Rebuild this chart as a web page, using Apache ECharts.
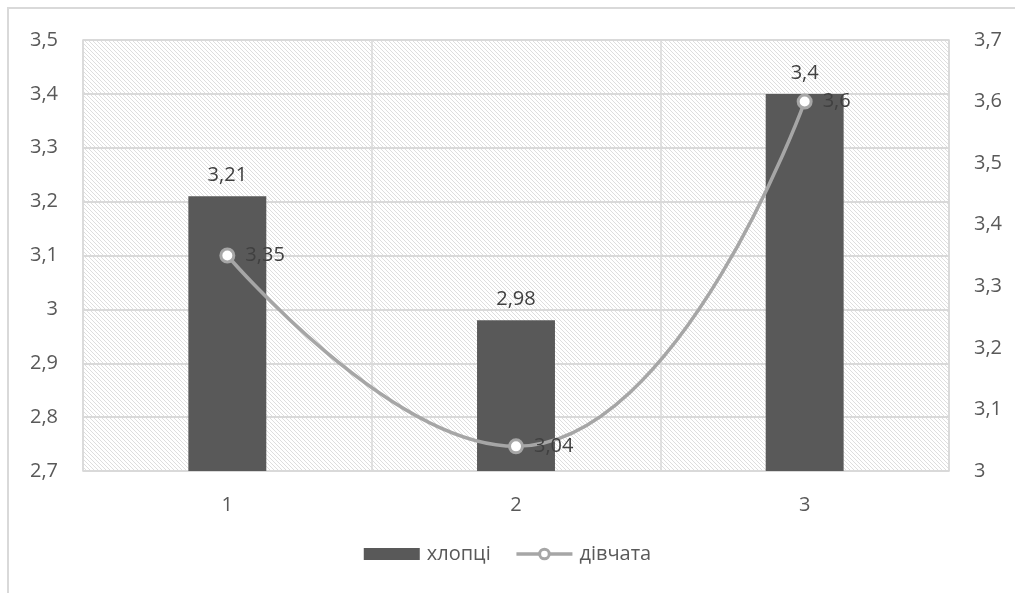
<!DOCTYPE html>
<html>
<head>
<meta charset="utf-8">
<script src="https://cdn.jsdelivr.net/npm/echarts@6/dist/echarts.min.js"></script>
<style>
html,body{margin:0;padding:0;background:#fff;}
#chart{width:1015px;height:593px;}
</style>
</head>
<body>
<div id="chart"></div>
<script>
var categories = ['1', '2', '3'];
var boysValues = [3.21, 2.98, 3.4];
var girlsValues = [3.35, 3.04, 3.6];
var seriesNames = ['хлопці', 'дівчата'];

function hatch() {
  var c = document.createElement('canvas');
  c.width = 8; c.height = 8;
  var g = c.getContext('2d');
  g.fillStyle = '#ffffff';
  g.fillRect(0, 0, 8, 8);
  g.strokeStyle = '#dadada';
  g.lineWidth = 0.9;
  g.beginPath();
  for (var k = -8; k <= 16; k += 4) {
    g.moveTo(k, 0);
    g.lineTo(k + 8, 8);
  }
  g.stroke();
  return c;
}

var font = '"Open Sans", "Noto Sans", sans-serif';
function fmt(v) { return String(Math.round(v * 100) / 100).replace('.', ','); }
var chart = echarts.init(document.getElementById('chart'), null, {renderer: 'canvas'});
chart.setOption({
  backgroundColor: '#ffffff',
  animation: false,
  textStyle: {fontFamily: font},
  graphic: [{
    type: 'rect', z: -10,
    shape: {x: 8, y: 8, width: 1200, height: 800},
    style: {fill: 'none', stroke: '#d9d9d9', lineWidth: 2}
  }],
  grid: {
    left: 83, right: 66, top: 40, bottom: 122,
    show: true,
    backgroundColor: {image: hatch(), repeat: 'repeat'},
    borderColor: '#d9d9d9', borderWidth: 1.5
  },
  legend: {
    bottom: 24, left: 'center',
    itemWidth: 56, itemHeight: 12, itemGap: 24,
    textStyle: {fontSize: 20, color: '#595959', fontFamily: font, padding: [0, 0, 0, 2]},
    data: [
      {name: seriesNames[0], icon: 'rect'},
      {name: seriesNames[1],
       lineStyle: {width: 3.5, color: '#a6a6a6'},
       itemStyle: {color: '#ffffff', borderColor: '#a6a6a6', borderWidth: 3}}
    ]
  },
  xAxis: {
    type: 'category', data: categories,
    axisLine: {show: false}, axisTick: {show: false},
    axisLabel: {fontSize: 20, color: '#595959', margin: 24, fontFamily: font},
    splitLine: {show: true, lineStyle: {color: '#d9d9d9', width: 1.5}}
  },
  yAxis: [{
    type: 'value', min: 2.7, max: 3.5, interval: 0.1,
    axisLine: {show: false}, axisTick: {show: false},
    axisLabel: {fontSize: 20, color: '#595959', margin: 25, fontFamily: font, formatter: fmt},
    splitLine: {lineStyle: {color: '#d9d9d9', width: 2}}
  }, {
    type: 'value', min: 3.0, max: 3.7, interval: 0.1,
    axisLine: {show: false}, axisTick: {show: false},
    axisLabel: {fontSize: 20, color: '#595959', margin: 25, fontFamily: font, formatter: fmt},
    splitLine: {show: false}
  }],
  series: [{
    name: seriesNames[0], type: 'bar', data: boysValues, yAxisIndex: 0,
    barWidth: '27%',
    itemStyle: {color: '#595959'},
    label: {show: true, position: 'top', distance: 11, fontSize: 20, color: '#404040', fontFamily: font,
      formatter: function (p) { return fmt(p.value); }}
  }, {
    name: seriesNames[1], type: 'line', data: girlsValues, yAxisIndex: 1,
    smooth: 0.5,
    symbol: 'circle', symbolSize: 13,
    lineStyle: {color: '#a6a6a6', width: 3.5},
    itemStyle: {color: '#ffffff', borderColor: '#a6a6a6', borderWidth: 3},
    label: {show: true, position: 'right', distance: 10, fontSize: 20, color: '#404040', fontFamily: font,
      formatter: function (p) { return fmt(p.value); }},
    z: 5
  }]
});
</script>
</body>
</html>
